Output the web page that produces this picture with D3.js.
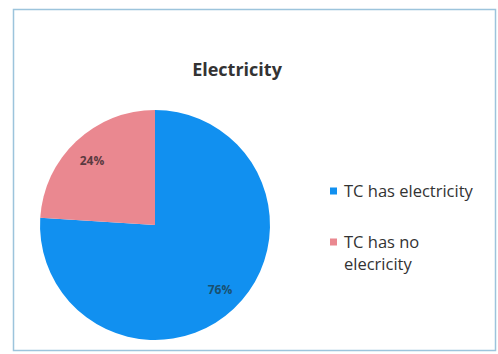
<!DOCTYPE html>
<html><head><meta charset="utf-8">
<script src="https://cdn.jsdelivr.net/npm/d3@7"></script>
<style>body{margin:0;background:#fff}svg{display:block}</style>
</head><body>
<script>
const categories = ["TC has electricity", "TC has no elecricity"];
const values = [76, 24];
const labels = ["76%", "24%"];
const colors = ["#1190f0", "#ea8890"];

const W = 498, H = 354;
const svg = d3.select("body").append("svg").attr("width", W).attr("height", H);
svg.append("rect").attr("x", 13.5).attr("y", 9.5).attr("width", 482).attr("height", 341)
  .attr("fill", "#fff").attr("stroke", "#9cc4dc").attr("stroke-width", 1.5);

svg.append("text").attr("x", 237).attr("y", 76).attr("text-anchor", "middle")
  .attr("font-family", "Open Sans, sans-serif").attr("font-weight", "bold").attr("font-size", 18)
  .attr("fill", "#333").text("Electricity");

const cx = 155, cy = 225, r = 115;
const pie = d3.pie().sort(null).value(d => d)(values);
const arc = d3.arc().innerRadius(0).outerRadius(r);
const g = svg.append("g").attr("transform", `translate(${cx},${cy})`);
g.selectAll("path").data(pie).join("path").attr("d", arc).attr("fill", (d, i) => colors[i]);

const lblPos = [[65, 65], [-63, -64]];
g.selectAll("text.lbl").data(pie).join("text").attr("class", "lbl")
  .attr("x", (d, i) => lblPos[i][0]).attr("y", (d, i) => lblPos[i][1])
  .attr("text-anchor", "middle").attr("dy", "0.35em")
  .attr("font-family", "Open Sans, sans-serif").attr("font-weight", "bold").attr("font-size", 12)
  .attr("fill", (d, i) => i === 0 ? "#1a5070" : "#5a3a40").text((d, i) => labels[i]);

const leg = svg.append("g").attr("font-family", "Open Sans, sans-serif").attr("font-size", 16.5).attr("fill", "#333");
const legY = [191, 242];
categories.forEach((c, i) => {
  leg.append("rect").attr("x", 330).attr("y", legY[i] - 3.5).attr("width", 7).attr("height", 7).attr("fill", colors[i]);
  const t = leg.append("text").attr("x", 344).attr("y", legY[i]).attr("dy", "0.35em");
  if (i === 0) t.text(c);
  else {
    t.append("tspan").attr("x", 344).text("TC has no");
    t.append("tspan").attr("x", 344).attr("dy", 22).text("elecricity");
  }
});
</script>
</body></html>
